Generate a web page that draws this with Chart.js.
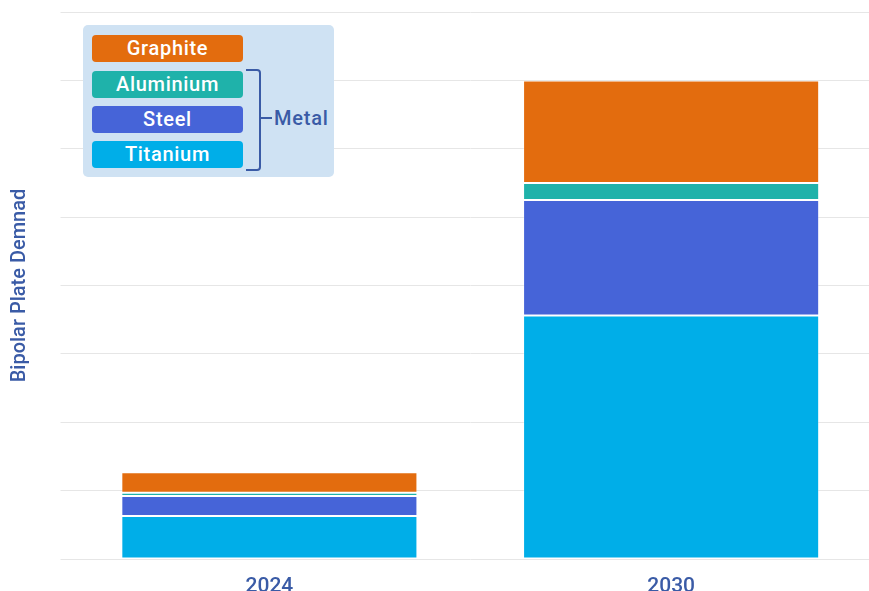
<!DOCTYPE html>
<html>
<head>
<meta charset="utf-8">
<script src="https://cdn.jsdelivr.net/npm/chart.js@4.4.0/dist/chart.umd.min.js"></script>
<style>
  html, body { margin: 0; padding: 0; background: #fff; overflow: hidden; }
  #wrap { position: relative; width: 872px; height: 600px; }
  #legend {
    position: absolute; left: 83px; top: 25px; width: 251px; height: 152px;
    background: #cfe2f3; border-radius: 5px;
    font-family: Roboto, sans-serif; font-weight: 500; color: #3a5ba6;
  }
  .pill {
    position: absolute; left: 9px; width: 151px; height: 27px;
    border-radius: 4px; color: #fff; font-size: 20px; letter-spacing: 0.7px;
    text-align: center; line-height: 27px;
  }
  #bracket {
    position: absolute; left: 163px; top: 44px; width: 15px; height: 102px;
    border: 2px solid #3a5ba6; border-left: none; border-radius: 0 4px 4px 0;
    box-sizing: border-box;
  }
  #dash { position: absolute; left: 176px; top: 92px; width: 13px; height: 2px; background: #3a5ba6; }
  #group { position: absolute; left: 191px; top: 80px; font-size: 20px; letter-spacing: 0.8px; line-height: 26px; }
</style>
</head>
<body>
<div id="wrap">
  <canvas id="chart"></canvas>
  <div id="legend"></div>
</div>
<script>
// Data
const categories = ['2024', '2030'];
const titanium = [0.63, 3.56];
const steel = [0.29, 1.69];
const aluminium = [0.05, 0.25];
const graphite = [0.30, 1.50];
const seriesNames = ['Titanium', 'Steel', 'Aluminium', 'Graphite'];
const metalGroup = ['Aluminium', 'Steel', 'Titanium'];
const yMax = 8;

const COLORS = {
  Titanium: '#00aee8',
  Steel: '#4664d8',
  Aluminium: '#1fb2aa',
  Graphite: '#e36c0e',
};
const TEXT_BLUE = '#3a5ba6';

const seriesData = [titanium, steel, aluminium, graphite];

const datasets = seriesNames.map((name, i) => ({
  label: name,
  data: seriesData[i],
  backgroundColor: COLORS[name],
  borderColor: 'rgba(255,255,255,0.3)',
  borderWidth: 1,
  borderSkipped: false,
  barPercentage: 0.737,
  categoryPercentage: 1,
}));

const chart = new Chart(document.getElementById('chart'), {
  type: 'bar',
  data: { labels: categories, datasets },
  options: {
    responsive: true,
    maintainAspectRatio: false,
    animation: false,
    layout: { padding: { top: 12 } },
    plugins: {
      legend: { display: false },
      tooltip: { enabled: false },
    },
    scales: {
      x: {
        stacked: true,
        grid: { display: false, drawTicks: false },
        border: { display: false },
        ticks: {
          color: TEXT_BLUE,
          padding: 15,
          font: { family: 'Roboto', size: 21, weight: '500' },
        },
        afterFit: (s) => { s.height = 41; },
      },
      y: {
        stacked: true,
        min: 0,
        max: yMax,
        grid: { color: '#e6e6e6', tickLength: 8 },
        border: { display: false },
        ticks: { display: false, stepSize: 1 },
        title: {
          display: true,
          text: 'Bipolar Plate Demnad',
          color: TEXT_BLUE,
          padding: { top: 8 },
          font: { family: 'Roboto', size: 20, weight: '500' },
        },
        afterFit: (s) => { s.width = 68.5; },
      },
    },
  },
});

// Legend panel, built from the datasets (top of stack first)
const legend = document.getElementById('legend');
const pillTops = [10, 46, 81, 116];
chart.data.datasets.slice().reverse().forEach((ds, i) => {
  const pill = document.createElement('div');
  pill.className = 'pill';
  pill.style.top = pillTops[i] + 'px';
  pill.style.background = ds.backgroundColor;
  pill.textContent = ds.label;
  legend.appendChild(pill);
});
if (metalGroup.length) {
  legend.insertAdjacentHTML('beforeend',
    '<div id="bracket"></div><div id="dash"></div><div id="group">Metal</div>');
}
</script>
</body>
</html>
